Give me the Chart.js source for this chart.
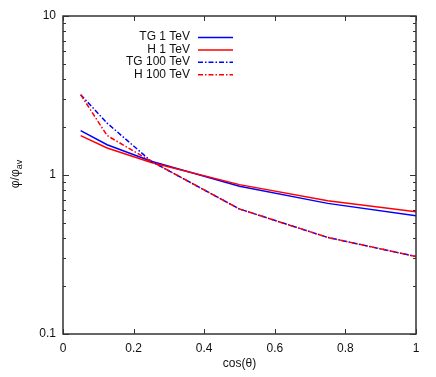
<!DOCTYPE html>
<html>
<head>
<meta charset="utf-8">
<script src="https://cdn.jsdelivr.net/npm/chart.js@4/dist/chart.umd.min.js"></script>
<style>
  html, body { margin: 0; padding: 0; background: #fff; }
  #wrap { width: 436px; height: 377px; }
</style>
</head>
<body>
<div id="wrap"><canvas id="myChart" width="436" height="377"></canvas></div>
<script>
// cos(theta) sample points
const cosTheta = [0.05, 0.125, 0.25, 0.5, 0.75, 1.0];

// phi / phi_av
const tg1 = [1.90, 1.55, 1.22, 0.85, 0.663, 0.555];
const h1 = [1.77, 1.48, 1.20, 0.87, 0.689, 0.587];
const tg100 = [3.2, 2.12, 1.22, 0.611, 0.405, 0.307];
const h100 = [3.2, 1.77, 1.22, 0.611, 0.405, 0.307];

const seriesLabels = ['TG 1 TeV', 'H 1 TeV', 'TG 100 TeV', 'H 100 TeV'];
const xTickValues = [0, 0.2, 0.4, 0.6, 0.8, 1];
const yTickLabels = ['0.1', '1', '10'];

const BLUE = '#0000ff';
const RED = '#ff0000';
const DASHDOT = [5, 2, 1.5, 2];
const FONT = { family: '"Liberation Sans", Arial, sans-serif', size: 12 };
const TEXT = '#111';
const FRAME = '#333';

function pts(ys) {
    return cosTheta.map((x, i) => ({ x: x, y: ys[i] }));
}

function fmtX(v) {
    const r = Math.round(v * 10) / 10;
    return xTickValues.some(t => Math.abs(t - r) < 1e-9) && Math.abs(v - r) < 1e-9 ? String(r) : '';
}

// frame, inward ticks, titles and the legend
const decorPlugin = {
    id: 'decor',
    afterDraw(chart) {
        const ctx = chart.ctx;
        const a = chart.chartArea;
        const xs = chart.scales.x;
        const ys = chart.scales.y;
        ctx.save();
        ctx.strokeStyle = FRAME;
        ctx.lineWidth = 1.5;
        ctx.strokeRect(a.left, a.top, a.right - a.left, a.bottom - a.top);

        ctx.lineWidth = 1;
        ctx.beginPath();
        xTickValues.forEach(v => {
            const px = Math.round(xs.getPixelForValue(v)) + 0.5;
            ctx.moveTo(px, a.bottom); ctx.lineTo(px, a.bottom - 5);
            ctx.moveTo(px, a.top); ctx.lineTo(px, a.top + 5);
        });
        [0.1, 1, 10].forEach(dec => {
            for (let m = 1; m <= 9; m++) {
                const v = dec * m;
                if (v > 10.0001) break;
                const py = Math.round(ys.getPixelForValue(v)) + 0.5;
                const len = m === 1 ? 6 : 3;
                ctx.moveTo(a.left, py); ctx.lineTo(a.left + len, py);
                ctx.moveTo(a.right, py); ctx.lineTo(a.right - len, py);
            }
        });
        ctx.stroke();

        // axis titles
        ctx.fillStyle = TEXT;
        ctx.font = '12px ' + FONT.family;
        ctx.textAlign = 'center';
        ctx.textBaseline = 'middle';
        ctx.fillText('cos(\u03b8)', (a.left + a.right) / 2, 364);

        ctx.save();
        ctx.translate(15, 174);
        ctx.rotate(-Math.PI / 2);
        ctx.textAlign = 'left';
        ctx.textBaseline = 'alphabetic';
        const main = '\u03c6/\u03c6';
        const w = ctx.measureText(main).width;
        ctx.font = '9px ' + FONT.family;
        const ws = ctx.measureText('av').width;
        const x0 = -(w + ws) / 2;
        ctx.font = '12px ' + FONT.family;
        ctx.fillText(main, x0, 4);
        ctx.font = '9px ' + FONT.family;
        ctx.fillText('av', x0 + w, 7);
        ctx.restore();

        // legend: text right aligned, sample line to the right
        ctx.font = '12px ' + FONT.family;
        ctx.textAlign = 'right';
        ctx.textBaseline = 'middle';
        chart.data.datasets.forEach((ds, i) => {
            const y = 37 + i * 12.4;
            ctx.fillStyle = TEXT;
            ctx.fillText(ds.label, 190, y);
            ctx.strokeStyle = ds.borderColor;
            ctx.lineWidth = 1.5;
            ctx.setLineDash(ds.borderDash || []);
            ctx.beginPath();
            ctx.moveTo(198, y + 0.5);
            ctx.lineTo(233, y + 0.5);
            ctx.stroke();
        });
        ctx.setLineDash([]);
        ctx.restore();
    }
};

const config = {
    type: 'line',
    data: {
        datasets: [
            { label: seriesLabels[0], data: pts(tg1), borderColor: BLUE, borderWidth: 1.5, order: 4 },
            { label: seriesLabels[1], data: pts(h1), borderColor: RED, borderWidth: 1.5, order: 3 },
            { label: seriesLabels[2], data: pts(tg100), borderColor: BLUE, borderWidth: 1.5, borderDash: DASHDOT, order: 2 },
            { label: seriesLabels[3], data: pts(h100), borderColor: RED, borderWidth: 1.5, borderDash: DASHDOT, order: 1 }
        ]
    },
    options: {
        responsive: false,
        animation: false,
        events: [],
        layout: { padding: { left: 0, top: 16, right: 20, bottom: 0 } },
        elements: { point: { radius: 0 }, line: { tension: 0 } },
        plugins: { legend: { display: false }, tooltip: { enabled: false } },
        scales: {
            x: {
                type: 'linear',
                min: 0,
                max: 1,
                grid: { display: false, drawTicks: false },
                border: { display: false },
                ticks: {
                    stepSize: 0.2,
                    padding: 7,
                    color: TEXT,
                    font: FONT,
                    maxRotation: 0,
                    autoSkip: false,
                    callback: v => fmtX(v)
                },
                afterFit(s) {
                    s.height = 43;
                    s.paddingLeft = 0;
                    s.paddingRight = 0;
                }
            },
            y: {
                type: 'logarithmic',
                min: 0.1,
                max: 10,
                grid: { display: false, drawTicks: false },
                border: { display: false },
                ticks: {
                    padding: 7,
                    color: TEXT,
                    font: FONT,
                    autoSkip: false,
                    callback: v => {
                        const s = String(Math.round(v * 1000) / 1000);
                        return yTickLabels.includes(s) ? s : '';
                    }
                },
                afterFit(s) {
                    s.width = 63;
                    s.paddingTop = 0;
                    s.paddingBottom = 0;
                }
            }
        }
    },
    plugins: [decorPlugin]
};

new Chart(document.getElementById('myChart'), config);
</script>
</body>
</html>
